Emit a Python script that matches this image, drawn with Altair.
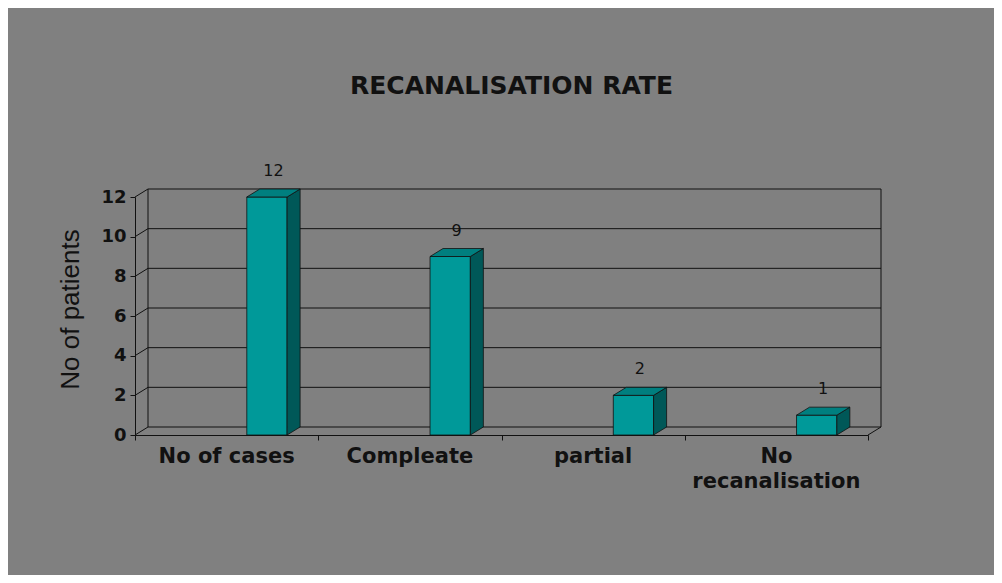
import altair as alt
import pandas as pd

# ---- data ----
categories = ["No of cases", "Compleate", "partial", "No recanalisation"]
label_text = ["No of cases", "Compleate", "partial", "No\nrecanalisation"]
values = [12, 9, 2, 1]
y_ticks = [0, 2, 4, 6, 8, 10, 12]
band_edges = [0, 1, 2, 3, 4]

# ---- layout / style constants ----
PLOT_W, PLOT_H = 733, 238
N = len(categories)
Y_MAX = 12
BAR_L, BAR_R = 0.61, 0.83          # bar front face position inside a category band
DX = 13 / PLOT_W * N               # 3-D depth in x data units
DY = 8 / PLOT_H * Y_MAX            # 3-D depth in y data units

FRONT = "#009999"
TOP = "#007f7f"
SIDE = "#005858"
EDGE = "#111111"
BG = "#808080"

# ---- tables built from the arrays ----
bars = pd.DataFrame({
    "cat": categories,
    "xl": [i + BAR_L for i in range(N)],
    "xr": [i + BAR_R for i in range(N)],
    "v": values,
    "lx": [i + (BAR_L + BAR_R) / 2 + DX / 2 for i in range(N)],
    "ly": [v + DY for v in values],
})

side_rows, top_rows = [], []
for i, (c, v) in enumerate(zip(categories, values)):
    side_rows.append({"cat": c, "x": i + BAR_R, "lo": 0, "hi": v})
    side_rows.append({"cat": c, "x": i + BAR_R + DX, "lo": DY, "hi": v + DY})
    top_rows.append({"cat": c, "y": v, "xa": i + BAR_L, "xb": i + BAR_R})
    top_rows.append({"cat": c, "y": v + DY, "xa": i + BAR_L + DX, "xb": i + BAR_R + DX})
side = pd.DataFrame(side_rows)
top = pd.DataFrame(top_rows)

grid = pd.DataFrame({
    "x": [DX] * len(y_ticks), "x2": [N + DX] * len(y_ticks),
    "y": [t + DY for t in y_ticks],
})
diag = pd.DataFrame({
    "x": [0] * len(y_ticks) + [N], "x2": [DX] * len(y_ticks) + [N + DX],
    "y": y_ticks + [0], "y2": [t + DY for t in y_ticks] + [DY],
})
walls = pd.DataFrame({"x": [DX, N + DX], "y": [DY, DY], "y2": [Y_MAX + DY, Y_MAX + DY]})
cats = pd.DataFrame({"x": [i + 0.5 for i in range(N)], "t": label_text})

xs = alt.Scale(domain=[0, N], nice=False, zero=False)
ys = alt.Scale(domain=[0, Y_MAX], nice=False)

X_AXIS = alt.Axis(values=band_edges, labels=False, title=None, grid=False,
                  tickSize=5, tickColor=EDGE, domainColor=EDGE)
Y_AXIS = alt.Axis(values=y_ticks, title="No of patients", grid=False,
                  tickSize=5, tickColor=EDGE, domainColor=EDGE,
                  labelFont="DejaVu Sans", labelFontWeight="bold",
                  labelFontSize=18, labelColor=EDGE, labelPadding=4,
                  titleFont="Liberation Sans",
                  titleFontSize=26, titleFontWeight="normal",
                  titleColor="#111111", titleAngle=270,
                  titleAlign="center", titleBaseline="middle",
                  titleX=-65, titleY=112)


def X(f):
    return alt.X(f, scale=xs, axis=X_AXIS)


def Y(f):
    return alt.Y(f, scale=ys, axis=Y_AXIS)


grid_l = alt.Chart(grid).mark_rule(color=EDGE, strokeWidth=1).encode(
    x=X("x:Q"), x2="x2:Q", y=Y("y:Q"))
diag_l = alt.Chart(diag).mark_rule(color=EDGE, strokeWidth=1).encode(
    x=X("x:Q"), x2="x2:Q", y=Y("y:Q"), y2="y2:Q")
walls_l = alt.Chart(walls).mark_rule(color=EDGE, strokeWidth=1).encode(
    x=X("x:Q"), y=Y("y:Q"), y2="y2:Q")

front_l = alt.Chart(bars).mark_bar(color=FRONT, stroke=EDGE, strokeWidth=0.8).encode(
    x=X("xl:Q"), x2="xr:Q", y=Y("v:Q"), y2=alt.datum(0))

side_l = alt.Chart(side).mark_area(color=SIDE, stroke=EDGE, strokeWidth=0.8, opacity=1).encode(
    x=X("x:Q"), y=Y("hi:Q"), y2="lo:Q", detail="cat:N")
top_l = alt.Chart(top).mark_area(color=TOP, stroke=EDGE, strokeWidth=0.8,
                                 orient="horizontal", opacity=1).encode(
    y=Y("y:Q"), x=X("xa:Q"), x2="xb:Q", detail="cat:N")

val_l = alt.Chart(bars).mark_text(font="DejaVu Sans", fontSize=16, color=EDGE,
                                  baseline="bottom", dy=-10).encode(
    x=X("lx:Q"), y=Y("ly:Q"), text="v:Q")

cat_l = alt.Chart(cats).mark_text(font="DejaVu Sans", fontWeight="bold", fontSize=21,
                                  color=EDGE, baseline="top", lineBreak="\n",
                                  lineHeight=25).encode(
    x=X("x:Q"), y=alt.value(PLOT_H + 11), text="t:N")

chart = alt.layer(grid_l, diag_l, walls_l, front_l, side_l, top_l, val_l, cat_l).properties(
    width=PLOT_W, height=PLOT_H,
    title=alt.TitleParams("RECANALISATION RATE", font="DejaVu Sans", fontWeight="bold",
                          fontSize=25, color="#111111", anchor="middle", dx=10,
                          offset=64),
    background=BG,
    padding={"left": 127, "top": 189, "right": 126, "bottom": 140},
    autosize=alt.AutoSizeParams(type="none"),
).configure_view(stroke=None)

chart.save("out.html", embed_options={"renderer": "svg", "actions": False})
